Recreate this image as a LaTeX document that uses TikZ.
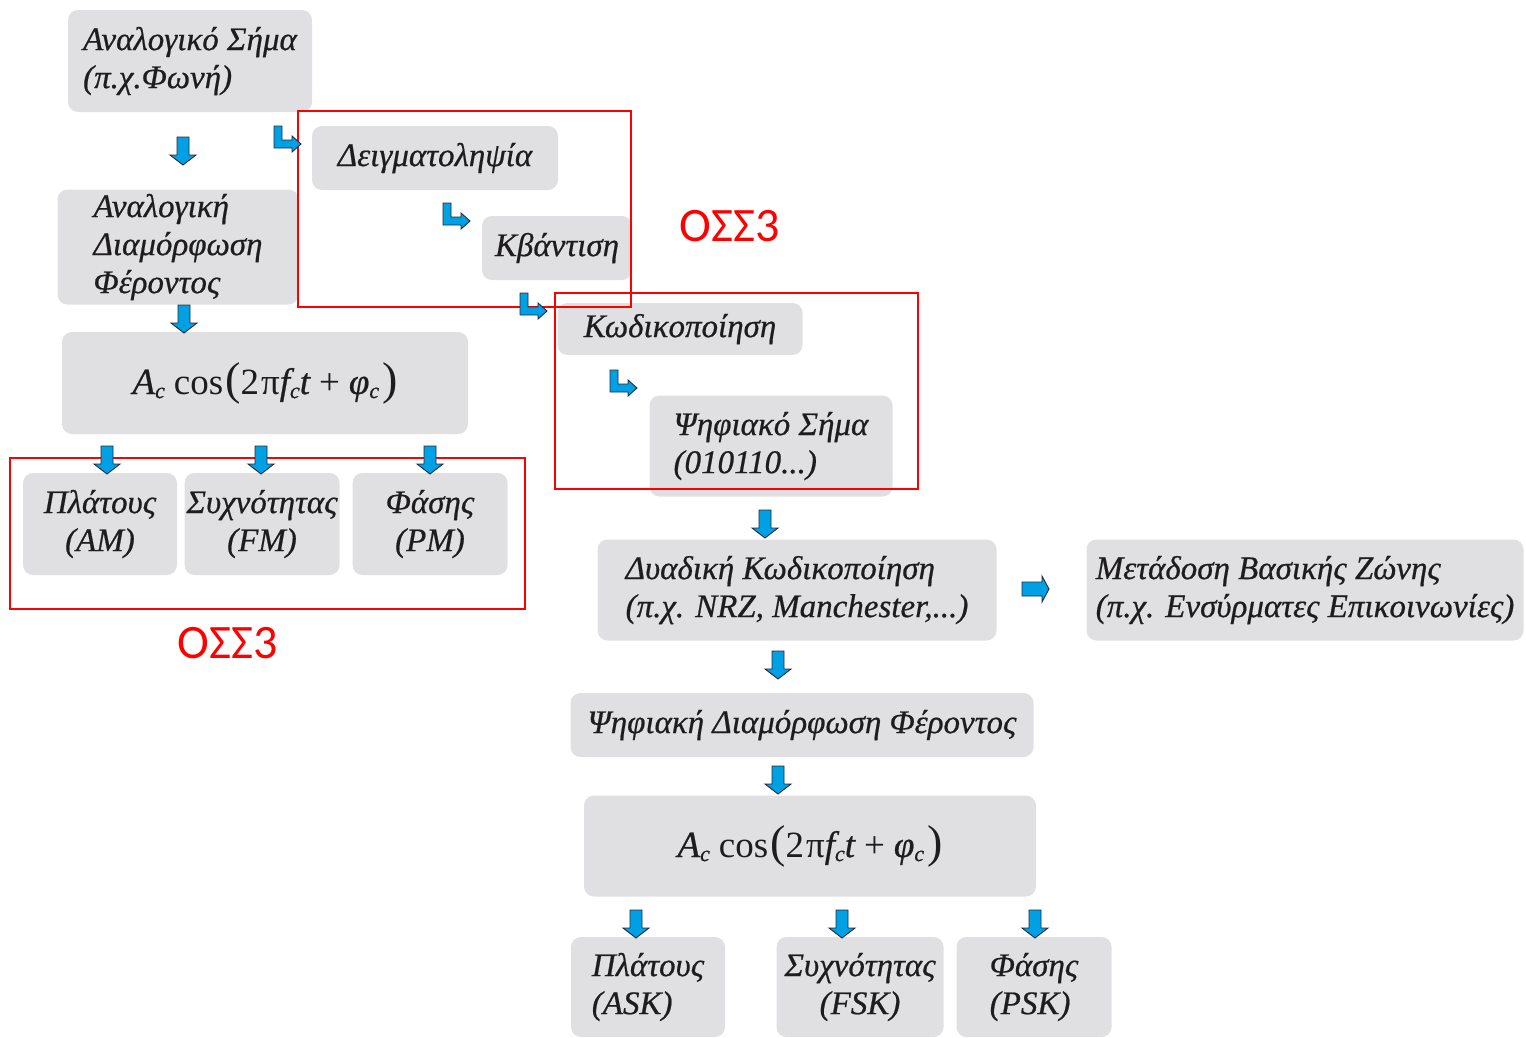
\documentclass[tikz,border=0pt]{standalone}
\usepackage{fontspec}
\setmainfont{Liberation Serif}[ItalicFeatures={FakeBold=0.6}]
\newfontfamily\labelfont{Carlito}
\definecolor{boxgray}{RGB}{224,224,226}
\definecolor{arrblue}{RGB}{0,160,228}
\definecolor{arredge}{RGB}{40,40,55}
\definecolor{txt}{RGB}{30,28,30}
\newcommand{\carrier}{{\itshape A}\raisebox{-4pt}{\fontsize{22}{22}\selectfont\itshape c}\kern9pt cos\kern2pt{\fontsize{46}{46}\selectfont(}2\kern2pt π{\itshape f}\raisebox{-4pt}{\fontsize{22}{22}\selectfont\itshape c}{\itshape t}\kern9pt+\kern9pt{\itshape φ}\raisebox{-4pt}{\fontsize{22}{22}\selectfont\itshape c}\kern3pt{\fontsize{46}{46}\selectfont)}}
\tikzset{
  gbox/.style={fill=boxgray, rounded corners=10pt, inner sep=0pt, text=txt,
    font=\fontsize{33}{38}\selectfont\itshape},
  formula/.style={gbox, font=\fontsize{37}{40}\selectfont},
  rbox/.style={draw=red, line width=2.2pt},
  osslabel/.style={text=red, font=\fontsize{48}{52}\selectfont\labelfont, inner sep=0pt},
  blockarrow/.style={fill=arrblue, draw=arredge, line width=0.9pt, line join=miter},
  downarr/.pic={\path[blockarrow] (-6,0) -- (6,0) -- (6,18) -- (13,18) -- (0,28) -- (-13,18) -- (-6,18) -- cycle;},
  rightarr/.pic={\path[blockarrow] (0,-7) -- (20,-7) -- (20,-13) -- (27,0) -- (20,13) -- (20,7) -- (0,7) -- cycle;},
  larr/.pic={\path[blockarrow] (0,0) -- (8,0) -- (8,14) -- (18,14) -- (18,10) -- (27,18) -- (18,26) -- (18,22) -- (0,22) -- cycle;}
}
\begin{document}
\begin{tikzpicture}[x=1pt,y=-1pt]
\useasboundingbox (0,0) rectangle (1526,1037);
% boxes
\node[gbox, minimum width=244pt, minimum height=102pt, align=left] (a1) at (190,61) {Αναλογικό Σήμα\\(π.χ.Φωνή)};
\node[gbox, minimum width=246pt, minimum height=64pt] (deigm) at (435,158) {Δειγματοληψία};
\node[gbox, minimum width=150pt, minimum height=64pt] (kvant) at (557,248) {Κβάντιση};
\node[gbox, minimum width=245pt, minimum height=52pt] (kodik) at (680,329) {Κωδικοποίηση};
\node[gbox, minimum width=243pt, minimum height=101pt, align=left] (psif) at (771,446) {Ψηφιακό Σήμα\\(010110...)};
\node[gbox, minimum width=241pt, minimum height=115pt, align=left] (andiam) at (178,247) {Αναλογική\\Διαμόρφωση\\Φέροντος};
\node[formula, minimum width=406pt, minimum height=102pt] (cos1) at (265,383) {\carrier};
\node[gbox, minimum width=154pt, minimum height=102pt, align=center] (am) at (100,524) {Πλάτους\\(AM)};
\node[gbox, minimum width=155pt, minimum height=102pt, align=center] (fm) at (262,524) {Συχνότητας\\(FM)};
\node[gbox, minimum width=155pt, minimum height=102pt, align=center] (pm) at (430,524) {Φάσης\\(PM)};
\node[gbox, minimum width=399pt, minimum height=101pt, align=left] (dyad) at (797,590) {Δυαδική Κωδικοποίηση\\(π.χ. NRZ, Manchester,...)};
\node[gbox, minimum width=437pt, minimum height=101pt, align=left] (metad) at (1305,590) {Μετάδοση Βασικής Ζώνης\\(π.χ. Ενσύρματες Επικοινωνίες)};
\node[gbox, minimum width=463pt, minimum height=64pt] (psdiam) at (802,725) {Ψηφιακή Διαμόρφωση Φέροντος};
\node[formula, minimum width=452pt, minimum height=101pt] (cos2) at (810,846) {\carrier};
\node[gbox, minimum width=154pt, minimum height=100pt, align=left] (ask) at (648,987) {Πλάτους\\(ASK)};
\node[gbox, minimum width=167pt, minimum height=100pt, align=center] (fsk) at (860,987) {Συχνότητας\\(FSK)};
\node[gbox, minimum width=155pt, minimum height=100pt, align=left] (psk) at (1034,987) {Φάσης\\(PSK)};
% red frames
\draw[rbox] (298,111) rectangle (631,307);
\draw[rbox] (555,293) rectangle (918,489);
\draw[rbox] (10,458) rectangle (525,609);
\node[osslabel] (oss1) at (730,226) {ΟΣΣ3};
\node[osslabel] (oss2) at (228,643) {ΟΣΣ3};
% arrows
\pic at (183,137) {downarr};
\pic at (184,305) {downarr};
\pic at (107,446) {downarr};
\pic at (261,446) {downarr};
\pic at (430,446) {downarr};
\pic at (765,510) {downarr};
\pic at (778,651) {downarr};
\pic at (778,766) {downarr};
\pic at (636,910) {downarr};
\pic at (842,910) {downarr};
\pic at (1035,910) {downarr};
\pic at (1022,589) {rightarr};
\pic at (274,126) {larr};
\pic at (443,203) {larr};
\pic at (520,293) {larr};
\pic at (610,370) {larr};
\end{tikzpicture}
\end{document}
